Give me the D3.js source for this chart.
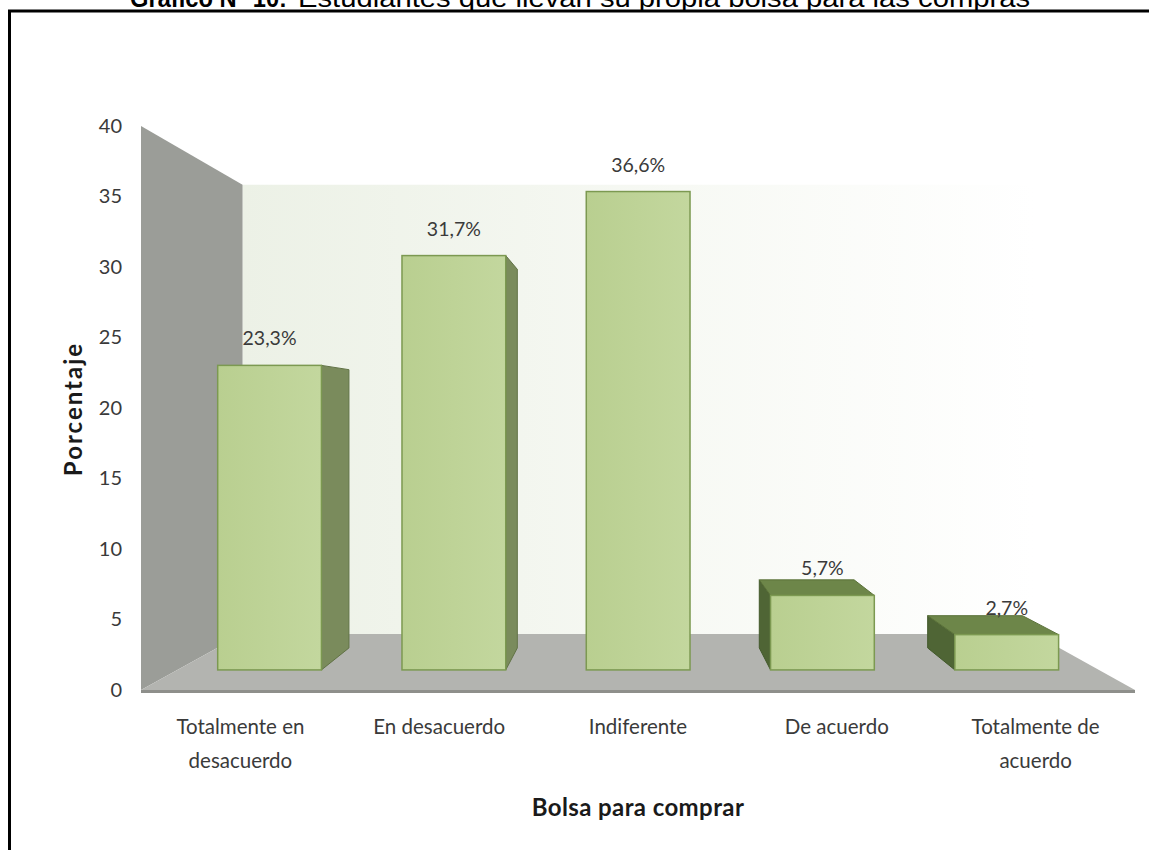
<!DOCTYPE html>
<html>
<head>
<meta charset="utf-8">
<script src="https://cdn.jsdelivr.net/npm/d3@7"></script>
<style>
  html, body { margin: 0; padding: 0; background: #ffffff; overflow: hidden; }
  svg { display: block; }
</style>
</head>
<body>
<svg id="chart" width="1149" height="850"></svg>
<script>
// ---- data ----
const categories = ["Totalmente en desacuerdo", "En desacuerdo", "Indiferente", "De acuerdo", "Totalmente de acuerdo"];
const categoryLines = [["Totalmente en", "desacuerdo"], ["En desacuerdo"], ["Indiferente"], ["De acuerdo"], ["Totalmente de", "acuerdo"]];
const percentages = [23.3, 31.7, 36.6, 5.7, 2.7];
const valueLabels = ["23,3%", "31,7%", "36,6%", "5,7%", "2,7%"];
const yTicks = [0, 5, 10, 15, 20, 25, 30, 35, 40];
const titleBold = "Gráfico N° 10:";
const titleText = "Estudiantes que llevan su propia bolsa para las compras";
const xTitle = "Bolsa para comprar";
const yTitle = "Porcentaje";

// ---- layout ----
const W = 1149, H = 850;
const svg = d3.select("#chart");
const FONT = "Lato, 'Open Sans', sans-serif";

// front plane scales
const x = d3.scaleBand().domain(categories).range([141, 1135])
  .paddingInner(0.437).paddingOuter(0.2185);
const y = d3.scaleLinear().domain([0, 40]).range([690, 126]);

// simple perspective: points recede toward a vanishing point
const vp = { x: 640, y: 415 };
const S = { front: 1, wallBack: 0.7965, barFront: 0.927, barBack: 0.847 };
const P = (px, py, s) => [vp.x + (px - vp.x) * s, vp.y + (py - vp.y) * s];
const poly = pts => "M" + pts.map(p => p.join(",")).join("L") + "Z";

const defs = svg.append("defs");
const wallGrad = defs.append("linearGradient").attr("id", "backWall")
  .attr("gradientUnits", "userSpaceOnUse")
  .attr("x1", P(141, 0, S.wallBack)[0]).attr("y1", 0)
  .attr("x2", P(1135, 0, S.wallBack)[0]).attr("y2", 0);
wallGrad.append("stop").attr("offset", 0).attr("stop-color", "#ecf1e6");
wallGrad.append("stop").attr("offset", 0.55).attr("stop-color", "#f7f9f4");
wallGrad.append("stop").attr("offset", 1).attr("stop-color", "#ffffff");

const barGrad = defs.append("linearGradient").attr("id", "barFront")
  .attr("x1", 0).attr("y1", 0).attr("x2", 1).attr("y2", 0);
barGrad.append("stop").attr("offset", 0).attr("stop-color", "#b9cf90");
barGrad.append("stop").attr("offset", 1).attr("stop-color", "#c3d79e");

// ---- frame and title ----
svg.append("path").attr("d", `M9.5,${H + 5}V11H${W + 5}`)
  .attr("fill", "none").attr("stroke", "#000").attr("stroke-width", 3);

svg.append("text").attr("x", 130).attr("y", 7)
  .attr("font-family", "'Liberation Sans', Arial, sans-serif")
  .attr("font-size", 26).attr("font-weight", "bold").attr("fill", "#000")
  .attr("textLength", 157).attr("lengthAdjust", "spacingAndGlyphs")
  .text(titleBold);
svg.append("text").attr("x", 298).attr("y", 7)
  .attr("font-family", "'Liberation Sans', Arial, sans-serif")
  .attr("font-size", 26).attr("fill", "#000")
  .attr("textLength", 732).attr("lengthAdjust", "spacingAndGlyphs")
  .text(titleText);

// ---- walls and floor ----
const x0 = 141, x1 = 1135, yTop = y(40), yBase = y(0);
svg.append("path").attr("d", poly([
  P(x0, yTop, S.wallBack), P(x1, yTop, S.wallBack), P(x1, yBase, S.wallBack), P(x0, yBase, S.wallBack)
])).attr("fill", "url(#backWall)");

svg.append("path").attr("d", poly([
  P(x0, yTop, S.front), P(x0, yTop, S.wallBack), P(x0, yBase, S.wallBack), P(x0, yBase, S.front)
])).attr("fill", "#9b9d98");

svg.append("path").attr("d", poly([
  P(x0, yBase, S.front), P(x0, yBase, S.wallBack), P(x1, yBase, S.wallBack), P(x1, yBase, S.front)
])).attr("fill", "#b3b4b0");

svg.append("rect").attr("x", x0).attr("y", yBase).attr("width", x1 - x0).attr("height", 3)
  .attr("fill", "#8e8f8b");

// ---- bars ----
const data = categories.map((c, i) => ({ c, v: percentages[i], label: valueLabels[i] }));
const bars = svg.append("g").attr("class", "bars");

data.forEach(d => {
  const bx0 = x(d.c), bx1 = x(d.c) + x.bandwidth();
  const top = y(d.v), base = y(0);
  const g = bars.append("g");

  // side face facing the viewer
  if (bx1 < vp.x) {
    g.append("path").attr("d", poly([
      P(bx1, top, S.barFront), P(bx1, top, S.barBack), P(bx1, base, S.barBack), P(bx1, base, S.barFront)
    ])).attr("fill", "#7a8b5c").attr("stroke", "#617246").attr("stroke-width", 1);
  } else if (bx0 > vp.x) {
    g.append("path").attr("d", poly([
      P(bx0, top, S.barFront), P(bx0, top, S.barBack), P(bx0, base, S.barBack), P(bx0, base, S.barFront)
    ])).attr("fill", "#4f6535").attr("stroke", "#435a2c").attr("stroke-width", 1);
  }
  // top face when below eye level
  if (top > vp.y) {
    g.append("path").attr("d", poly([
      P(bx0, top, S.barFront), P(bx0, top, S.barBack), P(bx1, top, S.barBack), P(bx1, top, S.barFront)
    ])).attr("fill", "#6d8649").attr("stroke", "#5b7239").attr("stroke-width", 1);
  }
  // front face
  const a = P(bx0, top, S.barFront), b = P(bx1, base, S.barFront);
  g.append("rect").attr("x", a[0]).attr("y", a[1])
    .attr("width", b[0] - a[0]).attr("height", b[1] - a[1])
    .attr("fill", "url(#barFront)").attr("stroke", "#7c9951").attr("stroke-width", 1.5);

  // value label
  const c = P((bx0 + bx1) / 2, top, S.barFront);
  g.append("text").attr("x", c[0]).attr("y", c[1] - 20)
    .attr("text-anchor", "middle").attr("font-family", FONT).attr("font-size", 19.5)
    .attr("fill", "#3a3a3a").text(d.label);
});

// ---- axes ----
const yAxis = svg.append("g").attr("transform", `translate(${x0},0)`)
  .call(d3.axisLeft(y).tickValues(yTicks).tickSize(0).tickPadding(19).tickFormat(d3.format("d")));
yAxis.select(".domain").remove();
yAxis.selectAll("text").attr("font-family", FONT).attr("font-size", 20).attr("fill", "#3a3a3a");

const xAxis = svg.append("g").attr("transform", `translate(0,${yBase})`)
  .call(d3.axisBottom(x).tickSize(0).tickFormat(""));
xAxis.select(".domain").remove();
xAxis.selectAll(".tick").each(function(d, i) {
  const t = d3.select(this).append("text").attr("y", 44)
    .attr("text-anchor", "middle").attr("font-family", FONT).attr("font-size", 20.5).attr("fill", "#3a3a3a");
  categoryLines[i].forEach((line, k) => {
    t.append("tspan").attr("x", 0).attr("dy", k === 0 ? 0 : 34).text(line);
  });
});

// ---- axis titles ----
svg.append("text").attr("x", 638).attr("y", 816)
  .attr("text-anchor", "middle").attr("font-family", FONT).attr("font-size", 24)
  .attr("font-weight", "bold").attr("letter-spacing", 0.4).attr("fill", "#1a1a1a").text(xTitle);

svg.append("text").attr("transform", "translate(82,409) rotate(-90)")
  .attr("text-anchor", "middle").attr("font-family", FONT).attr("font-size", 24)
  .attr("font-weight", "bold").attr("letter-spacing", 2).attr("fill", "#1a1a1a").text(yTitle);
</script>
</body>
</html>
